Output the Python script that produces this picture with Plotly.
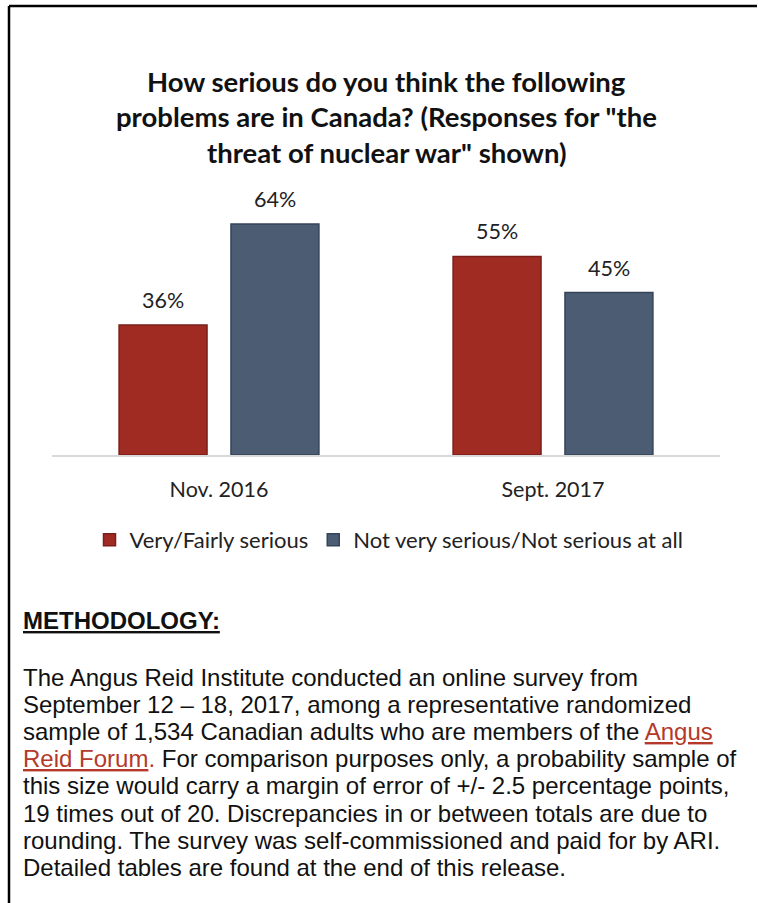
import plotly.graph_objects as go

W, H = 758, 903

categories = ["Nov. 2016", "Sept. 2017"]
series_names = ["Very/Fairly serious", "Not very serious/Not serious at all"]
very_fairly = [36, 55]
not_serious = [64, 45]
bar_colors = ["#A02B23", "#4B5C73"]
bar_edges = ["#7A1F19", "#35445A"]

title_lines = [
    "How serious do you think the following",
    "problems are in Canada? (Responses for \"the",
    "threat of nuclear war\" shown)",
]
method_head = "METHODOLOGY:"
method_lines = [
    "The Angus Reid Institute conducted an online survey from",
    "September 12 – 18, 2017, among a representative randomized",
    "sample of 1,534 Canadian adults who are members of the <span style='color:#B5392A'><u>Angus</u></span>",
    "<span style='color:#B5392A'><u>Reid Forum</u>.</span> For comparison purposes only, a probability sample of",
    "this size would carry a margin of error of +/- 2.5 percentage points,",
    "19 times out of 20. Discrepancies in or between totals are due to",
    "rounding. The survey was self-commissioned and paid for by ARI.",
    "Detailed tables are found at the end of this release.",
]

def px(x):
    return x / W

def py(y):
    return 1 - y / H

fig = go.Figure()
for name, vals, col, edge in zip(series_names, [very_fairly, not_serious], bar_colors, bar_edges):
    fig.add_trace(go.Bar(
        x=categories, y=vals, name=name,
        marker=dict(color=col, line=dict(color=edge, width=1.5)),
    ))

annotations = []
# value labels above bars
offsets = [-56, 56]
for vals, off in zip([very_fairly, not_serious], offsets):
    for c, v in zip(categories, vals):
        annotations.append(dict(
            x=c, y=v, xref="x", yref="y", text=f"{v}%", showarrow=False,
            xshift=off, yshift=25, yanchor="middle",
            font=dict(family="Lato", size=21.5, color="#222222"),
        ))

# title lines
for i, t in enumerate(title_lines):
    annotations.append(dict(
        x=px(386), y=py(81 + i * 35.5), xref="paper", yref="paper",
        text=f"<b>{t}</b>", showarrow=False, xanchor="center", yanchor="middle",
        font=dict(family="Lato", size=27.5, color="#111111"),
    ))

annotations.append(dict(
    x=px(21), y=py(620), xref="paper", yref="paper",
    text=f"<b><u>{method_head}</u></b>", showarrow=False, xanchor="left", yanchor="middle",
    font=dict(family="Liberation Sans", size=24, color="#111111"),
))
for i, t in enumerate(method_lines):
    annotations.append(dict(
        x=px(21), y=py(677 + i * 27.2), xref="paper", yref="paper",
        text=t, showarrow=False, xanchor="left", yanchor="middle",
        font=dict(family="Liberation Sans", size=24, color="#111111"),
    ))

shapes = [
    dict(type="line", xref="paper", yref="paper", x0=px(9), x1=px(757), y0=py(6), y1=py(6),
         line=dict(color="#000000", width=2.5)),
    dict(type="line", xref="paper", yref="paper", x0=px(9), x1=px(9), y0=py(6), y1=0,
         line=dict(color="#000000", width=2.5)),
]

fig.update_layout(
    width=W, height=H, margin=dict(l=0, r=0, t=0, b=0),
    paper_bgcolor="white", plot_bgcolor="white",
    barmode="group", bargap=0.33, bargroupgap=0.214,
    font=dict(family="Lato", color="#222222"),
    xaxis=dict(domain=[px(52), px(720)], showline=True, linecolor="#D9D9D9", linewidth=1.5,
               ticks="", tickfont=dict(family="Lato", size=21.5, color="#222222"),
               ticklabelstandoff=14, showgrid=False, zeroline=False),
    yaxis=dict(domain=[py(455), py(150)], range=[0, 84.5], visible=False, showgrid=False),
    showlegend=True,
    legend=dict(orientation="h", x=px(389), xanchor="center", y=py(540), yanchor="middle",
                font=dict(family="Lato", size=22, color="#222222"),
                bgcolor="rgba(0,0,0,0)", itemclick=False),
    annotations=annotations, shapes=shapes,
)

fig.write_html("out.html")
